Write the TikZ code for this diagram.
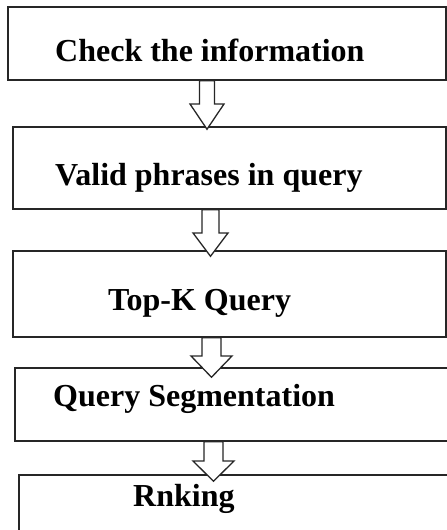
\documentclass[tikz,border=0pt]{standalone}
\usepackage{fontspec}
\setmainfont{Liberation Serif}
\usepackage{tikz}
\usetikzlibrary{calc}

% hollow down arrow between two boxes:
% from, to, centre x, half shaft, half head, head top y, tip depth
\newcommand{\flowarrow}[7]{%
  \coordinate (ac) at (#3,#6);
  \draw[hollowarrow]
    ($(#1.south -| ac)+(-#4,0)$) -- ($(ac)+(-#4,0)$) -- ($(ac)+(-#5,0)$)
    -- ($(#2.north -| ac)+(0,#7)$)
    -- ($(ac)+(#5,0)$) -- ($(ac)+(#4,0)$) -- ($(#1.south -| ac)+(#4,0)$) -- cycle;
}

\begin{document}
\begin{tikzpicture}[x=1pt, y=-1pt,
  stepbox/.style={draw=black!85, line width=1.5pt, fill=white, inner sep=0pt},
  steptext/.style={font=\fontsize{32}{36}\selectfont\bfseries,
                   anchor=base west, inner sep=0pt},
  hollowarrow/.style={draw=black!85, line width=1.3pt, fill=white, line join=miter}]

  \path[use as bounding box, clip] (0,0) rectangle (447,530);

  % boxes
  \node[stepbox, minimum width=438pt, minimum height=73pt] (b1) at (227,43.5) {};
  \node[stepbox, minimum width=433pt, minimum height=82pt] (b2) at (229.5,168) {};
  \node[stepbox, minimum width=433pt, minimum height=86pt] (b3) at (229.5,294) {};
  \node[stepbox, minimum width=445pt, minimum height=73pt] (b4) at (237.5,404.5) {};
  \node[stepbox, minimum width=441pt, minimum height=70pt] (b5) at (239.5,510) {};

  % labels
  \node[steptext] (t1) at (55,61)  {Check the information};
  \node[steptext] (t2) at (55,185) {Valid phrases in query};
  \node[steptext] (t3) at (108,310) {Top-K Query};
  \node[steptext] (t4) at (53,406) {Query Segmentation};
  \node[steptext] (t5) at (133,506) {Rnking};

  % arrows
  \flowarrow{b1}{b2}{207}{7.5}{17}{104}{3}
  \flowarrow{b2}{b3}{210.5}{8.5}{17.5}{233}{6}
  \flowarrow{b3}{b4}{211.5}{9.5}{20.5}{356}{10}
  \flowarrow{b4}{b5}{213.5}{9.5}{20.5}{461}{7}
\end{tikzpicture}
\end{document}
